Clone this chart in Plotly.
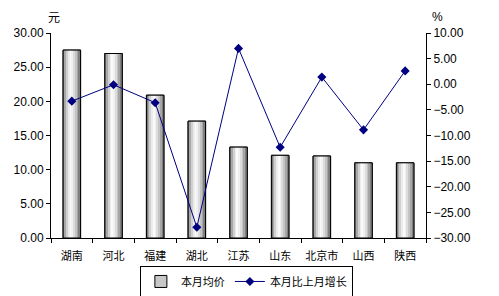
import plotly.graph_objects as go

categories = ["湖南", "河北", "福建", "湖北", "江苏", "山东", "北京市", "山西", "陕西"]
avg_price = [27.5, 27.0, 20.9, 17.1, 13.3, 12.1, 12.0, 11.0, 11.0]
mom_growth = [-3.3, -0.1, -3.6, -27.9, 7.0, -12.3, 1.4, -8.9, 2.6]
left_ticks = [0, 5, 10, 15, 20, 25, 30]
right_ticks = [-30, -25, -20, -15, -10, -5, 0, 5, 10]

FONT = "Liberation Sans, Noto Sans CJK SC, sans-serif"
CJK = "Noto Sans CJK SC, sans-serif"

fig = go.Figure()

W = 0.42
# legend-carrying base bar
fig.add_trace(go.Bar(
    x=categories, y=avg_price, width=W, offset=-W / 2, name="本月均价",
    marker=dict(color="#c8c8c8", line=dict(color="black", width=1)),
    yaxis="y"))

# gradient-like bar fill built from slices
grad = ["#7a7a7a", "#a8a8a8", "#d0d0d0", "#ececec", "#fafafa", "#f0f0f0",
        "#dcdcdc", "#c4c4c4", "#a6a6a6", "#808080"]
n = len(grad)
for k, c in enumerate(grad):
    fig.add_trace(go.Bar(
        x=categories, y=avg_price, width=W / n, offset=-W / 2 + k * W / n,
        marker=dict(color=c, line=dict(width=0)), showlegend=False,
        hoverinfo="skip", yaxis="y"))

fig.add_trace(go.Bar(
    x=categories, y=avg_price, width=W, offset=-W / 2, showlegend=False,
    marker=dict(color="rgba(0,0,0,0)", line=dict(color="black", width=1)),
    hoverinfo="skip", yaxis="y"))

fig.add_trace(go.Scatter(
    x=categories, y=mom_growth, name="本月比上月增长", mode="lines+markers",
    line=dict(color="#000080", width=1),
    marker=dict(symbol="diamond", size=7, color="#000080"),
    yaxis="y2"))

fig.update_layout(
    width=499, height=296,
    margin=dict(l=51, r=73, t=33, b=58, autoexpand=False),
    paper_bgcolor="white", plot_bgcolor="white",
    barmode="overlay",
    font=dict(family=FONT, size=12, color="black"),
    showlegend=True,
    legend=dict(orientation="h", x=0.521, xanchor="center", y=-0.212, yanchor="middle",
                bordercolor="black", borderwidth=1, font=dict(family=CJK, size=11),
                itemwidth=30, tracegroupgap=0),
    xaxis=dict(type="category", showline=True, linecolor="black", linewidth=1,
               ticks="outside", tickson="boundaries", ticklen=4, tickcolor="black",
               tickangle=0, automargin=False, ticklabelstandoff=8,
               tickfont=dict(family=CJK, size=11), showgrid=False, zeroline=False,
               range=[-0.5, len(categories) - 0.5]),
    yaxis=dict(range=[0, 30], tickvals=left_ticks, tickformat=".2f", automargin=False,
               showline=True, linecolor="black", linewidth=1, ticks="outside",
               ticklen=4, tickcolor="black", showgrid=False, zeroline=False),
    yaxis2=dict(range=[-30, 10], tickvals=right_ticks, tickformat=".2f",
                overlaying="y", side="right", automargin=False,
                showline=True, linecolor="black", linewidth=1, ticks="outside",
                ticklen=4, tickcolor="black", showgrid=False, zeroline=False),
    annotations=[
        dict(text="元", xref="paper", yref="paper", x=0.008, y=1.08,
             xanchor="center", yanchor="middle", showarrow=False,
             font=dict(family=CJK, size=12)),
        dict(text="%", xref="paper", yref="paper", x=1.03, y=1.08,
             xanchor="center", yanchor="middle", showarrow=False,
             font=dict(family=FONT, size=12)),
    ],
)

fig.write_html("out.html")
